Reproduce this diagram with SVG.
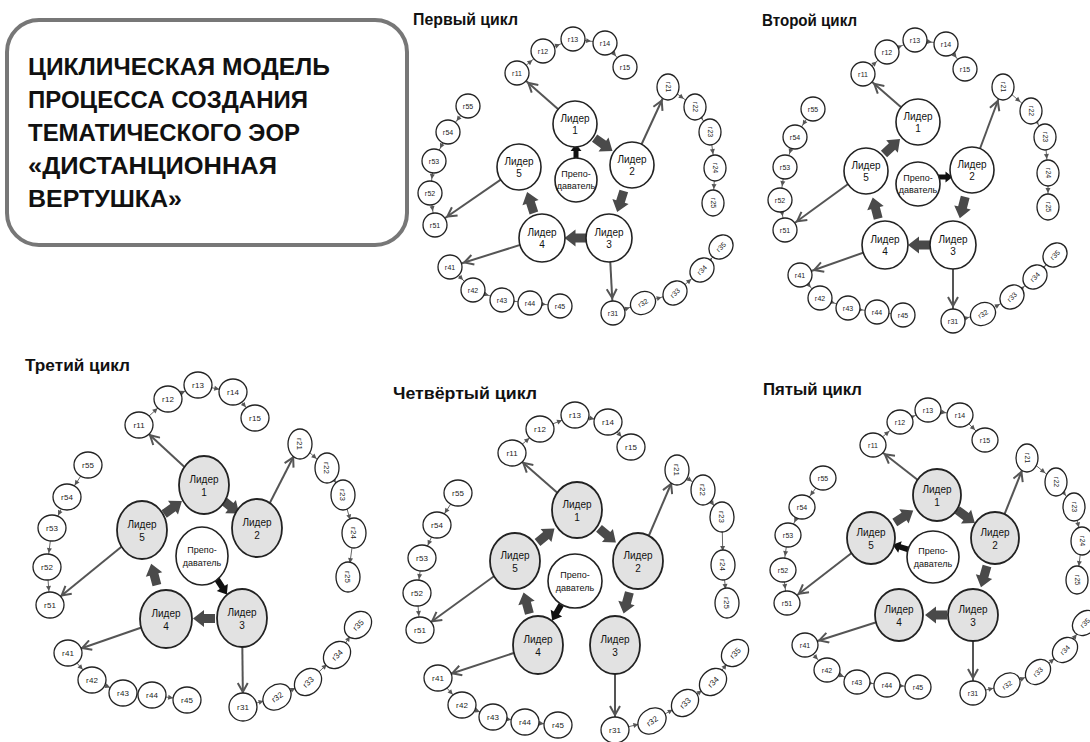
<svg xmlns="http://www.w3.org/2000/svg" xmlns:xlink="http://www.w3.org/1999/xlink" width="1090" height="742" viewBox="0 0 1090 742">
<style>
.bg{fill:#fff}
.box{fill:#fff;stroke:#777;stroke-width:4}
.mt{font-family:"Liberation Sans",Arial,sans-serif;font-size:24px;font-weight:bold;fill:#111}
.ct{font-family:"Liberation Sans",Arial,sans-serif;font-size:16px;font-weight:bold;fill:#111}
.L{fill:#fff;stroke:#222;stroke-width:1.6}
.Lg{fill:#e2e2e2;stroke:#222;stroke-width:1.8}
.s{fill:#fff;stroke:#222;stroke-width:1.3}
.lt{font-family:"Liberation Sans",Arial,sans-serif;font-size:10px;text-anchor:middle;fill:#111}
.tt{font-family:"Liberation Sans",Arial,sans-serif;font-size:9px;text-anchor:middle;fill:#111}
.st{font-family:"Liberation Sans",Arial,sans-serif;font-size:7px;text-anchor:middle;fill:#222}
.st2{font-family:"Liberation Sans",Arial,sans-serif;font-size:8px;text-anchor:middle;fill:#222}
.thin{stroke:#555;stroke-width:2;fill:none;marker-end:url(#mv)}
.ch{stroke:#666;stroke-width:1;fill:none;marker-end:url(#mc)}
.ba{fill:#4a4a4a}
.ta{fill:#111}
</style>
<defs>
<marker id="mv" markerUnits="userSpaceOnUse" viewBox="0 -6 32 12" markerWidth="32" markerHeight="12" refX="30" refY="0" orient="auto">
<path d="M6,-5 L15,0 L6,5" fill="none" stroke="#555" stroke-width="2"/>
</marker>
<marker id="mc" markerUnits="userSpaceOnUse" viewBox="0 -3 30 6" markerWidth="30" markerHeight="6" refX="28" refY="0" orient="auto">
<path d="M9,-2.5 L14,0 L9,2.5 Z" fill="#555"/>
</marker>
<path id="ba" d="M0,-4.5 H11 V-8.5 L22,0 L11,8.5 V4.5 H0 Z"/>
<path id="ta" d="M0,-2.5 H8 V-5.5 L15,0 L8,5.5 V2.5 H0 Z"/>
</defs>
<rect class="bg" x="0" y="0" width="1090" height="742"/>

<g id="title">
<rect class="box" x="7" y="20" width="400" height="225" rx="32"/>
<text class="mt" x="28" y="75" textLength="302" lengthAdjust="spacingAndGlyphs">ЦИКЛИЧЕСКАЯ МОДЕЛЬ</text>
<text class="mt" x="28" y="108" textLength="280" lengthAdjust="spacingAndGlyphs">ПРОЦЕССА СОЗДАНИЯ</text>
<text class="mt" x="28" y="141" textLength="272" lengthAdjust="spacingAndGlyphs">ТЕМАТИЧЕСКОГО ЭОР</text>
<text class="mt" x="28" y="174" textLength="249" lengthAdjust="spacingAndGlyphs">«ДИСТАНЦИОННАЯ</text>
<text class="mt" x="28" y="207" textLength="154" lengthAdjust="spacingAndGlyphs">ВЕРТУШКА»</text>
</g>

<!-- ================= CYCLE 1 ================= -->
<g id="cycle1">
<text class="ct" x="413" y="25" textLength="105" lengthAdjust="spacingAndGlyphs">Первый цикл</text>
<g id="c1-connectors">
<line class="thin" x1="575" y1="124" x2="517" y2="73"/>
<line class="thin" x1="632" y1="165" x2="668" y2="87"/>
<line class="thin" x1="609" y1="238" x2="613" y2="313"/>
<line class="thin" x1="542" y1="238" x2="450" y2="267"/>
<line class="thin" x1="519" y1="167" x2="435" y2="225"/>
<polyline class="ch" points="517,73 543,51"/><polyline class="ch" points="543,51 573,39"/><polyline class="ch" points="573,39 605,43"/><polyline class="ch" points="605,43 625,67"/>
<polyline class="ch" points="668,87 695,107"/><polyline class="ch" points="695,107 710,132"/><polyline class="ch" points="710,132 715,168"/><polyline class="ch" points="715,168 713,203"/>
<polyline class="ch" points="613,313 643,303"/><polyline class="ch" points="643,303 675,293"/><polyline class="ch" points="675,293 702,270"/><polyline class="ch" points="702,270 721,247"/>
<polyline class="ch" points="450,267 473,290"/><polyline class="ch" points="473,290 502,300"/><polyline class="ch" points="502,300 530,303"/><polyline class="ch" points="530,303 560,306"/>
<polyline class="ch" points="468,106 448,132"/><polyline class="ch" points="448,132 434,161"/><polyline class="ch" points="434,161 430,193"/><polyline class="ch" points="430,193 435,225"/>
<use href="#ba" class="ba" transform="translate(594.6,138.1) rotate(35.7)"/>
<use href="#ba" class="ba" transform="translate(623.8,191) rotate(107.5)"/>
<use href="#ba" class="ba" transform="translate(586.5,238) rotate(180)"/>
<use href="#ba" class="ba" transform="translate(533.9,213) rotate(-107.9)"/>
<use href="#ta" class="ta" transform="translate(576,159) rotate(-90)"/>
</g>
<g id="c1-L1"><ellipse class="L" cx="575" cy="124" rx="22" ry="23"/><text class="lt" x="575" y="122">Лидер</text><text class="lt" x="575" y="134">1</text></g>
<g id="c1-L2"><ellipse class="L" cx="632" cy="165" rx="22" ry="23"/><text class="lt" x="632" y="163">Лидер</text><text class="lt" x="632" y="175">2</text></g>
<g id="c1-L3"><ellipse class="L" cx="609" cy="238" rx="23" ry="24"/><text class="lt" x="609" y="236">Лидер</text><text class="lt" x="609" y="248">3</text></g>
<g id="c1-L4"><ellipse class="L" cx="542" cy="238" rx="23" ry="24"/><text class="lt" x="542" y="236">Лидер</text><text class="lt" x="542" y="248">4</text></g>
<g id="c1-L5"><ellipse class="L" cx="519" cy="167" rx="22" ry="23"/><text class="lt" x="519" y="165">Лидер</text><text class="lt" x="519" y="177">5</text></g>
<g id="c1-T"><ellipse class="L" cx="576" cy="180" rx="21" ry="22"/><text class="tt" x="576" y="177">Препо-</text><text class="tt" x="576" y="189">даватель</text></g>
<g id="c1-g11" transform="translate(517,73)"><ellipse class="s" rx="12" ry="12"/><text class="st" y="2.5">г11</text></g>
<g id="c1-g12" transform="translate(543,51)"><ellipse class="s" rx="12" ry="12"/><text class="st" y="2.5">г12</text></g>
<g id="c1-g13" transform="translate(573,39)"><ellipse class="s" rx="12" ry="12"/><text class="st" y="2.5">г13</text></g>
<g id="c1-g14" transform="translate(605,43)"><ellipse class="s" rx="12" ry="12"/><text class="st" y="2.5">г14</text></g>
<g id="c1-g15" transform="translate(625,67)"><ellipse class="s" rx="12" ry="12"/><text class="st" y="2.5">г15</text></g>
<g id="c1-g21" transform="translate(668,87) rotate(90)"><ellipse class="s" rx="13" ry="11"/><text class="st" y="2.5">г21</text></g>
<g id="c1-g22" transform="translate(695,107) rotate(90)"><ellipse class="s" rx="13" ry="11"/><text class="st" y="2.5">г22</text></g>
<g id="c1-g23" transform="translate(710,132) rotate(90)"><ellipse class="s" rx="13" ry="11"/><text class="st" y="2.5">г23</text></g>
<g id="c1-g24" transform="translate(715,168) rotate(90)"><ellipse class="s" rx="13" ry="11"/><text class="st" y="2.5">г24</text></g>
<g id="c1-g25" transform="translate(713,203) rotate(90)"><ellipse class="s" rx="13" ry="11"/><text class="st" y="2.5">г25</text></g>
<g id="c1-g31" transform="translate(613,313)"><ellipse class="s" rx="12" ry="12"/><text class="st" y="2.5">г31</text></g>
<g id="c1-g32" transform="translate(643,303) rotate(-30)"><ellipse class="s" rx="13" ry="11"/><text class="st" y="2.5">г32</text></g>
<g id="c1-g33" transform="translate(675,293) rotate(-45)"><ellipse class="s" rx="13" ry="11"/><text class="st" y="2.5">г33</text></g>
<g id="c1-g34" transform="translate(702,270) rotate(-45)"><ellipse class="s" rx="13" ry="11"/><text class="st" y="2.5">г34</text></g>
<g id="c1-g35" transform="translate(721,247) rotate(-45)"><ellipse class="s" rx="13" ry="11"/><text class="st" y="2.5">г35</text></g>
<g id="c1-g41" transform="translate(450,267)"><ellipse class="s" rx="12" ry="12"/><text class="st" y="2.5">г41</text></g>
<g id="c1-g42" transform="translate(473,290)"><ellipse class="s" rx="12" ry="12"/><text class="st" y="2.5">г42</text></g>
<g id="c1-g43" transform="translate(502,300)"><ellipse class="s" rx="12" ry="12"/><text class="st" y="2.5">г43</text></g>
<g id="c1-g44" transform="translate(530,303)"><ellipse class="s" rx="12" ry="12"/><text class="st" y="2.5">г44</text></g>
<g id="c1-g45" transform="translate(560,306)"><ellipse class="s" rx="12" ry="12"/><text class="st" y="2.5">г45</text></g>
<g id="c1-g55" transform="translate(468,106)"><ellipse class="s" rx="12" ry="12"/><text class="st" y="2.5">г55</text></g>
<g id="c1-g54" transform="translate(448,132)"><ellipse class="s" rx="12" ry="12"/><text class="st" y="2.5">г54</text></g>
<g id="c1-g53" transform="translate(434,161)"><ellipse class="s" rx="12" ry="12"/><text class="st" y="2.5">г53</text></g>
<g id="c1-g52" transform="translate(430,193)"><ellipse class="s" rx="12" ry="12"/><text class="st" y="2.5">г52</text></g>
<g id="c1-g51" transform="translate(435,225)"><ellipse class="s" rx="12" ry="12"/><text class="st" y="2.5">г51</text></g>
</g>

<!-- ================= CYCLE 2 ================= -->
<g id="cycle2">
<text class="ct" x="762" y="26" textLength="95" lengthAdjust="spacingAndGlyphs">Второй цикл</text>
<g id="c2-connectors">
<line class="thin" x1="918" y1="122" x2="863" y2="74"/>
<line class="thin" x1="972" y1="170" x2="1003" y2="87"/>
<line class="thin" x1="953" y1="245" x2="953" y2="321"/>
<line class="thin" x1="885" y1="245" x2="800" y2="275"/>
<line class="thin" x1="866" y1="171" x2="785" y2="230"/>
<polyline class="ch" points="863,74 887,52"/><polyline class="ch" points="887,52 915,40"/><polyline class="ch" points="915,40 946,44"/><polyline class="ch" points="946,44 965,69"/>
<polyline class="ch" points="1003,87 1031,111"/><polyline class="ch" points="1031,111 1045,137"/><polyline class="ch" points="1045,137 1048,173"/><polyline class="ch" points="1048,173 1048,207"/>
<polyline class="ch" points="953,321 983,314"/><polyline class="ch" points="983,314 1012,297"/><polyline class="ch" points="1012,297 1035,277"/><polyline class="ch" points="1035,277 1055,255"/>
<polyline class="ch" points="800,275 820,298"/><polyline class="ch" points="820,298 848,308"/><polyline class="ch" points="848,308 877,312"/><polyline class="ch" points="877,312 903,315"/>
<polyline class="ch" points="813,109 795,137"/><polyline class="ch" points="795,137 785,167"/><polyline class="ch" points="785,167 780,200"/><polyline class="ch" points="780,200 785,230"/>
<use href="#ta" class="ta" transform="translate(937.5,177)"/>
<use href="#ba" class="ba" transform="translate(965.2,196.8) rotate(104.2)"/>
<use href="#ba" class="ba" transform="translate(930,245) rotate(180)"/>
<use href="#ba" class="ba" transform="translate(878.2,218.7) rotate(-104.4)"/>
<use href="#ba" class="ba" transform="translate(884,154) rotate(-43.3)"/>
</g>
<g id="c2-L1"><ellipse class="L" cx="918" cy="122" rx="22" ry="23"/><text class="lt" x="918" y="120">Лидер</text><text class="lt" x="918" y="132">1</text></g>
<g id="c2-L2"><ellipse class="L" cx="972" cy="170" rx="22" ry="23"/><text class="lt" x="972" y="168">Лидер</text><text class="lt" x="972" y="180">2</text></g>
<g id="c2-L3"><ellipse class="L" cx="953" cy="245" rx="23" ry="24"/><text class="lt" x="953" y="243">Лидер</text><text class="lt" x="953" y="255">3</text></g>
<g id="c2-L4"><ellipse class="L" cx="885" cy="245" rx="23" ry="24"/><text class="lt" x="885" y="243">Лидер</text><text class="lt" x="885" y="255">4</text></g>
<g id="c2-L5"><ellipse class="L" cx="866" cy="171" rx="22" ry="23"/><text class="lt" x="866" y="169">Лидер</text><text class="lt" x="866" y="181">5</text></g>
<g id="c2-T"><ellipse class="L" cx="918" cy="184" rx="22" ry="22"/><text class="tt" x="918" y="181">Препо-</text><text class="tt" x="918" y="193">даватель</text></g>
<g id="c2-g11" transform="translate(863,74)"><ellipse class="s" rx="12" ry="12"/><text class="st" y="2.5">г11</text></g>
<g id="c2-g12" transform="translate(887,52)"><ellipse class="s" rx="12" ry="12"/><text class="st" y="2.5">г12</text></g>
<g id="c2-g13" transform="translate(915,40)"><ellipse class="s" rx="12" ry="12"/><text class="st" y="2.5">г13</text></g>
<g id="c2-g14" transform="translate(946,44)"><ellipse class="s" rx="12" ry="12"/><text class="st" y="2.5">г14</text></g>
<g id="c2-g15" transform="translate(965,69)"><ellipse class="s" rx="12" ry="12"/><text class="st" y="2.5">г15</text></g>
<g id="c2-g21" transform="translate(1003,87) rotate(90)"><ellipse class="s" rx="13" ry="11"/><text class="st" y="2.5">г21</text></g>
<g id="c2-g22" transform="translate(1031,111) rotate(90)"><ellipse class="s" rx="13" ry="11"/><text class="st" y="2.5">г22</text></g>
<g id="c2-g23" transform="translate(1045,137) rotate(90)"><ellipse class="s" rx="13" ry="11"/><text class="st" y="2.5">г23</text></g>
<g id="c2-g24" transform="translate(1048,173) rotate(90)"><ellipse class="s" rx="13" ry="11"/><text class="st" y="2.5">г24</text></g>
<g id="c2-g25" transform="translate(1048,207) rotate(90)"><ellipse class="s" rx="13" ry="11"/><text class="st" y="2.5">г25</text></g>
<g id="c2-g31" transform="translate(953,321)"><ellipse class="s" rx="12" ry="12"/><text class="st" y="2.5">г31</text></g>
<g id="c2-g32" transform="translate(983,314) rotate(-30)"><ellipse class="s" rx="13" ry="11"/><text class="st" y="2.5">г32</text></g>
<g id="c2-g33" transform="translate(1012,297) rotate(-45)"><ellipse class="s" rx="13" ry="11"/><text class="st" y="2.5">г33</text></g>
<g id="c2-g34" transform="translate(1035,277) rotate(-45)"><ellipse class="s" rx="13" ry="11"/><text class="st" y="2.5">г34</text></g>
<g id="c2-g35" transform="translate(1055,255) rotate(-45)"><ellipse class="s" rx="13" ry="11"/><text class="st" y="2.5">г35</text></g>
<g id="c2-g41" transform="translate(800,275)"><ellipse class="s" rx="12" ry="12"/><text class="st" y="2.5">г41</text></g>
<g id="c2-g42" transform="translate(820,298)"><ellipse class="s" rx="12" ry="12"/><text class="st" y="2.5">г42</text></g>
<g id="c2-g43" transform="translate(848,308)"><ellipse class="s" rx="12" ry="12"/><text class="st" y="2.5">г43</text></g>
<g id="c2-g44" transform="translate(877,312)"><ellipse class="s" rx="12" ry="12"/><text class="st" y="2.5">г44</text></g>
<g id="c2-g45" transform="translate(903,315)"><ellipse class="s" rx="12" ry="12"/><text class="st" y="2.5">г45</text></g>
<g id="c2-g55" transform="translate(813,109)"><ellipse class="s" rx="12" ry="12"/><text class="st" y="2.5">г55</text></g>
<g id="c2-g54" transform="translate(795,137)"><ellipse class="s" rx="12" ry="12"/><text class="st" y="2.5">г54</text></g>
<g id="c2-g53" transform="translate(785,167)"><ellipse class="s" rx="12" ry="12"/><text class="st" y="2.5">г53</text></g>
<g id="c2-g52" transform="translate(780,200)"><ellipse class="s" rx="12" ry="12"/><text class="st" y="2.5">г52</text></g>
<g id="c2-g51" transform="translate(785,230)"><ellipse class="s" rx="12" ry="12"/><text class="st" y="2.5">г51</text></g>
</g>

<!-- ================= CYCLE 3 ================= -->
<g id="cycle3">
<text class="ct" x="25" y="371" textLength="105" lengthAdjust="spacingAndGlyphs">Третий цикл</text>
<g id="c3-connectors">
<line class="thin" x1="204" y1="485" x2="139" y2="425"/>
<line class="thin" x1="257" y1="528" x2="300" y2="444"/>
<line class="thin" x1="242" y1="618" x2="243" y2="707"/>
<line class="thin" x1="166" y1="619" x2="68" y2="653"/>
<line class="thin" x1="142" y1="530" x2="50" y2="605"/>
<polyline class="ch" points="139,425 168,399"/><polyline class="ch" points="168,399 198,385"/><polyline class="ch" points="198,385 233,392"/><polyline class="ch" points="233,392 255,418"/>
<polyline class="ch" points="300,444 327,468"/><polyline class="ch" points="327,468 343,495"/><polyline class="ch" points="343,495 354,533"/><polyline class="ch" points="354,533 348,577"/>
<polyline class="ch" points="243,707 277,697"/><polyline class="ch" points="277,697 308,682"/><polyline class="ch" points="308,682 337,655"/><polyline class="ch" points="337,655 358,625"/>
<polyline class="ch" points="68,653 92,680"/><polyline class="ch" points="92,680 123,693"/><polyline class="ch" points="123,693 152,695"/><polyline class="ch" points="152,695 187,700"/>
<polyline class="ch" points="88,465 67,497"/><polyline class="ch" points="67,497 52,528"/><polyline class="ch" points="52,528 47,567"/><polyline class="ch" points="47,567 50,605"/>
<use href="#ta" class="ta" transform="translate(217.1,579.4) rotate(57.2) scale(1.2)"/>
<use href="#ba" class="ba" transform="translate(215,618.5) rotate(180)"/>
<use href="#ba" class="ba" transform="translate(156.9,585.1) rotate(-105)"/>
<use href="#ba" class="ba" transform="translate(164.1,514) rotate(-36)"/>
<use href="#ba" class="ba" transform="translate(222,499.6) rotate(39)"/>
</g>
<g id="c3-L1"><ellipse class="Lg" cx="204" cy="485" rx="25" ry="29"/><text class="lt" x="204" y="483">Лидер</text><text class="lt" x="204" y="496">1</text></g>
<g id="c3-L2"><ellipse class="Lg" cx="257" cy="528" rx="25" ry="29"/><text class="lt" x="257" y="526">Лидер</text><text class="lt" x="257" y="539">2</text></g>
<g id="c3-L3"><ellipse class="Lg" cx="242" cy="618" rx="25" ry="29"/><text class="lt" x="242" y="616">Лидер</text><text class="lt" x="242" y="629">3</text></g>
<g id="c3-L4"><ellipse class="Lg" cx="166" cy="619" rx="26" ry="29"/><text class="lt" x="166" y="617">Лидер</text><text class="lt" x="166" y="630">4</text></g>
<g id="c3-L5"><ellipse class="Lg" cx="142" cy="530" rx="25" ry="29"/><text class="lt" x="142" y="528">Лидер</text><text class="lt" x="142" y="541">5</text></g>
<g id="c3-T"><ellipse class="L" cx="202" cy="556" rx="26" ry="29"/><text class="tt" x="202" y="553">Препо-</text><text class="tt" x="202" y="566">даватель</text></g>
<g id="c3-g11" transform="translate(139,425)"><ellipse class="s" rx="14" ry="13"/><text class="st2" y="3">г11</text></g>
<g id="c3-g12" transform="translate(168,399)"><ellipse class="s" rx="14" ry="13"/><text class="st2" y="3">г12</text></g>
<g id="c3-g13" transform="translate(198,385)"><ellipse class="s" rx="14" ry="13"/><text class="st2" y="3">г13</text></g>
<g id="c3-g14" transform="translate(233,392)"><ellipse class="s" rx="14" ry="13"/><text class="st2" y="3">г14</text></g>
<g id="c3-g15" transform="translate(255,418)"><ellipse class="s" rx="14" ry="13"/><text class="st2" y="3">г15</text></g>
<g id="c3-g21" transform="translate(300,444) rotate(90)"><ellipse class="s" rx="15" ry="12"/><text class="st2" y="3">г21</text></g>
<g id="c3-g22" transform="translate(327,468) rotate(90)"><ellipse class="s" rx="15" ry="12"/><text class="st2" y="3">г22</text></g>
<g id="c3-g23" transform="translate(343,495) rotate(90)"><ellipse class="s" rx="15" ry="12"/><text class="st2" y="3">г23</text></g>
<g id="c3-g24" transform="translate(354,533) rotate(90)"><ellipse class="s" rx="15" ry="12"/><text class="st2" y="3">г24</text></g>
<g id="c3-g25" transform="translate(348,577) rotate(90)"><ellipse class="s" rx="15" ry="12"/><text class="st2" y="3">г25</text></g>
<g id="c3-g31" transform="translate(243,707)"><ellipse class="s" rx="14" ry="14"/><text class="st2" y="3">г31</text></g>
<g id="c3-g32" transform="translate(277,697) rotate(-35)"><ellipse class="s" rx="15" ry="12"/><text class="st2" y="3">г32</text></g>
<g id="c3-g33" transform="translate(308,682) rotate(-45)"><ellipse class="s" rx="15" ry="12"/><text class="st2" y="3">г33</text></g>
<g id="c3-g34" transform="translate(337,655) rotate(-45)"><ellipse class="s" rx="15" ry="12"/><text class="st2" y="3">г34</text></g>
<g id="c3-g35" transform="translate(358,625) rotate(-45)"><ellipse class="s" rx="15" ry="12"/><text class="st2" y="3">г35</text></g>
<g id="c3-g41" transform="translate(68,653)"><ellipse class="s" rx="14" ry="13"/><text class="st2" y="3">г41</text></g>
<g id="c3-g42" transform="translate(92,680)"><ellipse class="s" rx="14" ry="13"/><text class="st2" y="3">г42</text></g>
<g id="c3-g43" transform="translate(123,693)"><ellipse class="s" rx="14" ry="13"/><text class="st2" y="3">г43</text></g>
<g id="c3-g44" transform="translate(152,695)"><ellipse class="s" rx="14" ry="13"/><text class="st2" y="3">г44</text></g>
<g id="c3-g45" transform="translate(187,700)"><ellipse class="s" rx="14" ry="13"/><text class="st2" y="3">г45</text></g>
<g id="c3-g55" transform="translate(88,465)"><ellipse class="s" rx="14" ry="13"/><text class="st2" y="3">г55</text></g>
<g id="c3-g54" transform="translate(67,497)"><ellipse class="s" rx="14" ry="13"/><text class="st2" y="3">г54</text></g>
<g id="c3-g53" transform="translate(52,528)"><ellipse class="s" rx="14" ry="13"/><text class="st2" y="3">г53</text></g>
<g id="c3-g52" transform="translate(47,567)"><ellipse class="s" rx="14" ry="13"/><text class="st2" y="3">г52</text></g>
<g id="c3-g51" transform="translate(50,605)"><ellipse class="s" rx="14" ry="13"/><text class="st2" y="3">г51</text></g>
</g>

<!-- ================= CYCLE 4 ================= -->
<g id="cycle4">
<text class="ct" x="393" y="399" textLength="144" lengthAdjust="spacingAndGlyphs">Четвёртый цикл</text>
<g id="c4-connectors">
<line class="thin" x1="577" y1="510" x2="512" y2="453"/>
<line class="thin" x1="638" y1="561" x2="677" y2="470"/>
<line class="thin" x1="615" y1="645" x2="615" y2="730"/>
<line class="thin" x1="538" y1="645" x2="438" y2="678"/>
<line class="thin" x1="515" y1="561" x2="420" y2="630"/>
<polyline class="ch" points="512,453 540,429"/><polyline class="ch" points="540,429 575,415"/><polyline class="ch" points="575,415 608,422"/><polyline class="ch" points="608,422 631,447"/>
<polyline class="ch" points="677,470 703,490"/><polyline class="ch" points="703,490 722,517"/><polyline class="ch" points="722,517 723,565"/><polyline class="ch" points="723,565 727,603"/>
<polyline class="ch" points="615,730 652,721"/><polyline class="ch" points="652,721 685,703"/><polyline class="ch" points="685,703 713,682"/><polyline class="ch" points="713,682 735,653"/>
<polyline class="ch" points="438,678 462,705"/><polyline class="ch" points="462,705 493,717"/><polyline class="ch" points="493,717 525,722"/><polyline class="ch" points="525,722 558,725"/>
<polyline class="ch" points="458,493 437,525"/><polyline class="ch" points="437,525 422,558"/><polyline class="ch" points="422,558 417,593"/><polyline class="ch" points="417,593 420,630"/>
<use href="#ta" class="ta" transform="translate(561.2,604.8) rotate(120) scale(1.2)"/>
<use href="#ba" class="ba" transform="translate(529.4,613.6) rotate(-105.3)"/>
<use href="#ba" class="ba" transform="translate(537.5,542.5) rotate(-39.4)"/>
<use href="#ba" class="ba" transform="translate(599,528.4) rotate(39.9)"/>
<use href="#ba" class="ba" transform="translate(629.4,592.4) rotate(105.3)"/>
</g>
<g id="c4-L1"><ellipse class="Lg" cx="577" cy="510" rx="25" ry="28"/><text class="lt" x="577" y="508">Лидер</text><text class="lt" x="577" y="521">1</text></g>
<g id="c4-L2"><ellipse class="Lg" cx="638" cy="561" rx="25" ry="28"/><text class="lt" x="638" y="559">Лидер</text><text class="lt" x="638" y="572">2</text></g>
<g id="c4-L3"><ellipse class="Lg" cx="615" cy="645" rx="25" ry="29"/><text class="lt" x="615" y="643">Лидер</text><text class="lt" x="615" y="656">3</text></g>
<g id="c4-L4"><ellipse class="Lg" cx="538" cy="645" rx="25" ry="29"/><text class="lt" x="538" y="643">Лидер</text><text class="lt" x="538" y="656">4</text></g>
<g id="c4-L5"><ellipse class="Lg" cx="515" cy="561" rx="25" ry="28"/><text class="lt" x="515" y="559">Лидер</text><text class="lt" x="515" y="572">5</text></g>
<g id="c4-T"><ellipse class="L" cx="575" cy="581" rx="27" ry="27"/><text class="tt" x="575" y="578">Препо-</text><text class="tt" x="575" y="591">даватель</text></g>
<g id="c4-g11" transform="translate(512,453)"><ellipse class="s" rx="14" ry="13"/><text class="st2" y="3">г11</text></g>
<g id="c4-g12" transform="translate(540,429)"><ellipse class="s" rx="14" ry="13"/><text class="st2" y="3">г12</text></g>
<g id="c4-g13" transform="translate(575,415)"><ellipse class="s" rx="14" ry="13"/><text class="st2" y="3">г13</text></g>
<g id="c4-g14" transform="translate(608,422)"><ellipse class="s" rx="14" ry="13"/><text class="st2" y="3">г14</text></g>
<g id="c4-g15" transform="translate(631,447)"><ellipse class="s" rx="14" ry="13"/><text class="st2" y="3">г15</text></g>
<g id="c4-g21" transform="translate(677,470) rotate(90)"><ellipse class="s" rx="15" ry="12"/><text class="st2" y="3">г21</text></g>
<g id="c4-g22" transform="translate(703,490) rotate(90)"><ellipse class="s" rx="15" ry="12"/><text class="st2" y="3">г22</text></g>
<g id="c4-g23" transform="translate(722,517) rotate(90)"><ellipse class="s" rx="15" ry="12"/><text class="st2" y="3">г23</text></g>
<g id="c4-g24" transform="translate(723,565) rotate(90)"><ellipse class="s" rx="15" ry="12"/><text class="st2" y="3">г24</text></g>
<g id="c4-g25" transform="translate(727,603) rotate(90)"><ellipse class="s" rx="15" ry="12"/><text class="st2" y="3">г25</text></g>
<g id="c4-g31" transform="translate(615,730)"><ellipse class="s" rx="14" ry="13"/><text class="st2" y="3">г31</text></g>
<g id="c4-g32" transform="translate(652,721) rotate(-35)"><ellipse class="s" rx="15" ry="12"/><text class="st2" y="3">г32</text></g>
<g id="c4-g33" transform="translate(685,703) rotate(-45)"><ellipse class="s" rx="15" ry="12"/><text class="st2" y="3">г33</text></g>
<g id="c4-g34" transform="translate(713,682) rotate(-45)"><ellipse class="s" rx="15" ry="12"/><text class="st2" y="3">г34</text></g>
<g id="c4-g35" transform="translate(735,653) rotate(-45)"><ellipse class="s" rx="15" ry="12"/><text class="st2" y="3">г35</text></g>
<g id="c4-g41" transform="translate(438,678)"><ellipse class="s" rx="14" ry="13"/><text class="st2" y="3">г41</text></g>
<g id="c4-g42" transform="translate(462,705)"><ellipse class="s" rx="14" ry="13"/><text class="st2" y="3">г42</text></g>
<g id="c4-g43" transform="translate(493,717)"><ellipse class="s" rx="14" ry="13"/><text class="st2" y="3">г43</text></g>
<g id="c4-g44" transform="translate(525,722)"><ellipse class="s" rx="14" ry="13"/><text class="st2" y="3">г44</text></g>
<g id="c4-g45" transform="translate(558,725)"><ellipse class="s" rx="14" ry="13"/><text class="st2" y="3">г45</text></g>
<g id="c4-g55" transform="translate(458,493)"><ellipse class="s" rx="14" ry="13"/><text class="st2" y="3">г55</text></g>
<g id="c4-g54" transform="translate(437,525)"><ellipse class="s" rx="14" ry="13"/><text class="st2" y="3">г54</text></g>
<g id="c4-g53" transform="translate(422,558)"><ellipse class="s" rx="14" ry="13"/><text class="st2" y="3">г53</text></g>
<g id="c4-g52" transform="translate(417,593)"><ellipse class="s" rx="14" ry="13"/><text class="st2" y="3">г52</text></g>
<g id="c4-g51" transform="translate(420,630)"><ellipse class="s" rx="14" ry="13"/><text class="st2" y="3">г51</text></g>
</g>

<!-- ================= CYCLE 5 ================= -->
<g id="cycle5">
<text class="ct" x="763" y="395" textLength="99" lengthAdjust="spacingAndGlyphs">Пятый цикл</text>
<g id="c5-connectors">
<line class="thin" x1="937" y1="495" x2="873" y2="445"/>
<line class="thin" x1="995" y1="538" x2="1027" y2="458"/>
<line class="thin" x1="973" y1="615" x2="973" y2="693"/>
<line class="thin" x1="899" y1="615" x2="805" y2="645"/>
<line class="thin" x1="871" y1="538" x2="787" y2="603"/>
<polyline class="ch" points="873,445 900,422"/><polyline class="ch" points="900,422 928,410"/><polyline class="ch" points="928,410 960,415"/><polyline class="ch" points="960,415 985,440"/>
<polyline class="ch" points="1027,458 1056,482"/><polyline class="ch" points="1056,482 1074,507"/><polyline class="ch" points="1074,507 1082,541"/><polyline class="ch" points="1082,541 1077,580"/>
<polyline class="ch" points="973,693 1007,685"/><polyline class="ch" points="1007,685 1038,672"/><polyline class="ch" points="1038,672 1065,650"/><polyline class="ch" points="1065,650 1085,623"/>
<polyline class="ch" points="805,645 827,670"/><polyline class="ch" points="827,670 857,682"/><polyline class="ch" points="857,682 887,685"/><polyline class="ch" points="887,685 918,687"/>
<polyline class="ch" points="823,478 802,507"/><polyline class="ch" points="802,507 788,535"/><polyline class="ch" points="788,535 783,570"/><polyline class="ch" points="783,570 787,603"/>
<use href="#ta" class="ta" transform="translate(908.4,549.5) rotate(197) scale(1.1)"/>
<use href="#ba" class="ba" transform="translate(894.8,522.5) rotate(-33.1)"/>
<use href="#ba" class="ba" transform="translate(957.2,510) rotate(36.6)"/>
<use href="#ba" class="ba" transform="translate(987,566) rotate(105.9)"/>
<use href="#ba" class="ba" transform="translate(947,615) rotate(180)"/>
</g>
<g id="c5-L1"><ellipse class="Lg" cx="937" cy="495" rx="24" ry="26"/><text class="lt" x="937" y="493">Лидер</text><text class="lt" x="937" y="506">1</text></g>
<g id="c5-L2"><ellipse class="Lg" cx="995" cy="538" rx="24" ry="26"/><text class="lt" x="995" y="536">Лидер</text><text class="lt" x="995" y="549">2</text></g>
<g id="c5-L3"><ellipse class="Lg" cx="973" cy="615" rx="25" ry="26"/><text class="lt" x="973" y="613">Лидер</text><text class="lt" x="973" y="626">3</text></g>
<g id="c5-L4"><ellipse class="Lg" cx="899" cy="615" rx="24" ry="26"/><text class="lt" x="899" y="613">Лидер</text><text class="lt" x="899" y="626">4</text></g>
<g id="c5-L5"><ellipse class="Lg" cx="871" cy="538" rx="24" ry="26"/><text class="lt" x="871" y="536">Лидер</text><text class="lt" x="871" y="549">5</text></g>
<g id="c5-T"><ellipse class="L" cx="933" cy="557" rx="26" ry="26"/><text class="tt" x="933" y="554">Препо-</text><text class="tt" x="933" y="567">даватель</text></g>
<g id="c5-g11" transform="translate(873,445)"><ellipse class="s" rx="13" ry="12"/><text class="st" y="2.5">г11</text></g>
<g id="c5-g12" transform="translate(900,422)"><ellipse class="s" rx="13" ry="12"/><text class="st" y="2.5">г12</text></g>
<g id="c5-g13" transform="translate(928,410)"><ellipse class="s" rx="13" ry="12"/><text class="st" y="2.5">г13</text></g>
<g id="c5-g14" transform="translate(960,415)"><ellipse class="s" rx="13" ry="12"/><text class="st" y="2.5">г14</text></g>
<g id="c5-g15" transform="translate(985,440)"><ellipse class="s" rx="13" ry="12"/><text class="st" y="2.5">г15</text></g>
<g id="c5-g21" transform="translate(1027,458) rotate(90)"><ellipse class="s" rx="14" ry="11"/><text class="st" y="2.5">г21</text></g>
<g id="c5-g22" transform="translate(1056,482) rotate(90)"><ellipse class="s" rx="14" ry="11"/><text class="st" y="2.5">г22</text></g>
<g id="c5-g23" transform="translate(1074,507) rotate(90)"><ellipse class="s" rx="14" ry="11"/><text class="st" y="2.5">г23</text></g>
<g id="c5-g24" transform="translate(1082,541) rotate(90)"><ellipse class="s" rx="14" ry="11"/><text class="st" y="2.5">г24</text></g>
<g id="c5-g25" transform="translate(1077,580) rotate(90)"><ellipse class="s" rx="14" ry="11"/><text class="st" y="2.5">г25</text></g>
<g id="c5-g31" transform="translate(973,693)"><ellipse class="s" rx="13" ry="12"/><text class="st" y="2.5">г31</text></g>
<g id="c5-g32" transform="translate(1007,685) rotate(-35)"><ellipse class="s" rx="14" ry="11"/><text class="st" y="2.5">г32</text></g>
<g id="c5-g33" transform="translate(1038,672) rotate(-45)"><ellipse class="s" rx="14" ry="11"/><text class="st" y="2.5">г33</text></g>
<g id="c5-g34" transform="translate(1065,650) rotate(-45)"><ellipse class="s" rx="14" ry="11"/><text class="st" y="2.5">г34</text></g>
<g id="c5-g35" transform="translate(1085,623) rotate(-45)"><ellipse class="s" rx="14" ry="11"/><text class="st" y="2.5">г35</text></g>
<g id="c5-g41" transform="translate(805,645)"><ellipse class="s" rx="13" ry="12"/><text class="st" y="2.5">г41</text></g>
<g id="c5-g42" transform="translate(827,670)"><ellipse class="s" rx="13" ry="12"/><text class="st" y="2.5">г42</text></g>
<g id="c5-g43" transform="translate(857,682)"><ellipse class="s" rx="13" ry="12"/><text class="st" y="2.5">г43</text></g>
<g id="c5-g44" transform="translate(887,685)"><ellipse class="s" rx="13" ry="12"/><text class="st" y="2.5">г44</text></g>
<g id="c5-g45" transform="translate(918,687)"><ellipse class="s" rx="13" ry="12"/><text class="st" y="2.5">г45</text></g>
<g id="c5-g55" transform="translate(823,478)"><ellipse class="s" rx="13" ry="12"/><text class="st" y="2.5">г55</text></g>
<g id="c5-g54" transform="translate(802,507)"><ellipse class="s" rx="13" ry="12"/><text class="st" y="2.5">г54</text></g>
<g id="c5-g53" transform="translate(788,535)"><ellipse class="s" rx="13" ry="12"/><text class="st" y="2.5">г53</text></g>
<g id="c5-g52" transform="translate(783,570)"><ellipse class="s" rx="13" ry="12"/><text class="st" y="2.5">г52</text></g>
<g id="c5-g51" transform="translate(787,603)"><ellipse class="s" rx="13" ry="12"/><text class="st" y="2.5">г51</text></g>
</g>
</svg>
